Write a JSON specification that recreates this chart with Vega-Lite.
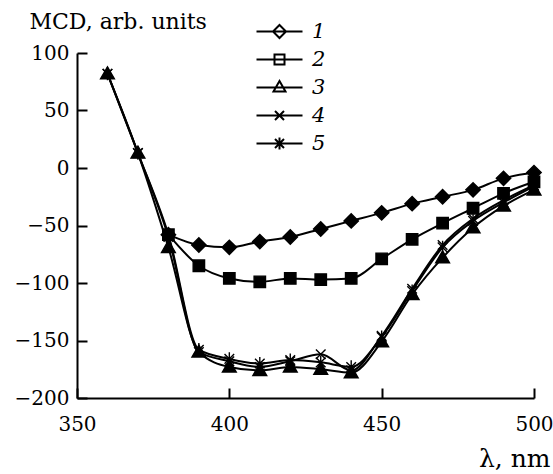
{
  "$schema": "https://vega.github.io/schema/vega-lite/v6.json",
  "width": 457,
  "height": 345,
  "autosize": {"type": "none"},
  "padding": {"left": 77, "top": 53, "right": 19, "bottom": 76},
  "background": "white",
  "config": {
    "view": {"stroke": null},
    "font": "DejaVu Serif",
    "axis": {
      "grid": false,
      "domainColor": "black",
      "domainWidth": 2,
      "tickColor": "black",
      "tickWidth": 2,
      "tickSize": -10,
      "labelColor": "black",
      "labelFont": "DejaVu Serif",
      "labelFontSize": 20,
      "labelFlush": false,
      "labelOverlap": false,
      "titleFont": "DejaVu Serif",
      "titleColor": "black",
      "titleFontWeight": "normal"
    }
  },
  "datasets": {
    "entries": [{"entry": "1"}, {"entry": "2"}, {"entry": "3"}, {"entry": "4"}, {"entry": "5"}]
  },
  "data": {
    "values": [
      {"series": "1", "wl": 380, "v": -58}, {"series": "1", "wl": 390, "v": -67}, {"series": "1", "wl": 400, "v": -69},
      {"series": "1", "wl": 410, "v": -64}, {"series": "1", "wl": 420, "v": -60}, {"series": "1", "wl": 430, "v": -53},
      {"series": "1", "wl": 440, "v": -46}, {"series": "1", "wl": 450, "v": -39}, {"series": "1", "wl": 460, "v": -31},
      {"series": "1", "wl": 470, "v": -25}, {"series": "1", "wl": 480, "v": -19}, {"series": "1", "wl": 490, "v": -9},
      {"series": "1", "wl": 500, "v": -4},
      {"series": "2", "wl": 380, "v": -58}, {"series": "2", "wl": 390, "v": -85}, {"series": "2", "wl": 400, "v": -96},
      {"series": "2", "wl": 410, "v": -99}, {"series": "2", "wl": 420, "v": -96}, {"series": "2", "wl": 430, "v": -97},
      {"series": "2", "wl": 440, "v": -96}, {"series": "2", "wl": 450, "v": -79}, {"series": "2", "wl": 460, "v": -62},
      {"series": "2", "wl": 470, "v": -48}, {"series": "2", "wl": 480, "v": -35}, {"series": "2", "wl": 490, "v": -22},
      {"series": "2", "wl": 500, "v": -12},
      {"series": "3", "wl": 360, "v": 82}, {"series": "3", "wl": 370, "v": 13}, {"series": "3", "wl": 380, "v": -69},
      {"series": "3", "wl": 390, "v": -160}, {"series": "3", "wl": 400, "v": -173}, {"series": "3", "wl": 410, "v": -176},
      {"series": "3", "wl": 420, "v": -173}, {"series": "3", "wl": 430, "v": -175}, {"series": "3", "wl": 440, "v": -178},
      {"series": "3", "wl": 450, "v": -151}, {"series": "3", "wl": 460, "v": -110}, {"series": "3", "wl": 470, "v": -78},
      {"series": "3", "wl": 480, "v": -52}, {"series": "3", "wl": 490, "v": -33}, {"series": "3", "wl": 500, "v": -19},
      {"series": "4", "wl": 360, "v": 82}, {"series": "4", "wl": 370, "v": 13}, {"series": "4", "wl": 380, "v": -60},
      {"series": "4", "wl": 390, "v": -160}, {"series": "4", "wl": 400, "v": -168}, {"series": "4", "wl": 410, "v": -173},
      {"series": "4", "wl": 420, "v": -168}, {"series": "4", "wl": 430, "v": -162}, {"series": "4", "wl": 440, "v": -176},
      {"series": "4", "wl": 450, "v": -146}, {"series": "4", "wl": 460, "v": -105}, {"series": "4", "wl": 470, "v": -67},
      {"series": "4", "wl": 480, "v": -44}, {"series": "4", "wl": 490, "v": -28}, {"series": "4", "wl": 500, "v": -15},
      {"series": "5", "wl": 360, "v": 82}, {"series": "5", "wl": 370, "v": 13}, {"series": "5", "wl": 380, "v": -58},
      {"series": "5", "wl": 390, "v": -158}, {"series": "5", "wl": 400, "v": -166}, {"series": "5", "wl": 410, "v": -170},
      {"series": "5", "wl": 420, "v": -167}, {"series": "5", "wl": 430, "v": -169}, {"series": "5", "wl": 440, "v": -173},
      {"series": "5", "wl": 450, "v": -147}, {"series": "5", "wl": 460, "v": -107}, {"series": "5", "wl": 470, "v": -69},
      {"series": "5", "wl": 480, "v": -46}, {"series": "5", "wl": 490, "v": -30}, {"series": "5", "wl": 500, "v": -16}
    ]
  },
  "layer": [
    {
      "mark": {"type": "line", "interpolate": "monotone", "color": "black", "strokeWidth": 2},
      "encoding": {
        "x": {
          "field": "wl", "type": "quantitative",
          "scale": {"domain": [350, 500], "nice": false, "zero": false},
          "axis": {
            "values": [350, 400, 450, 500],
            "labelPadding": 26,
            "title": "λ, nm",
            "titleFontSize": 25,
            "titleAlign": "right",
            "titleBaseline": "alphabetic",
            "titleX": 473,
            "titleY": 68
          }
        },
        "y": {
          "field": "v", "type": "quantitative",
          "scale": {"domain": [-200, 100], "nice": false, "zero": false},
          "axis": {
            "values": [-200, -150, -100, -50, 0, 50, 100],
            "labelPadding": 18,
            "title": "MCD, arb. units",
            "titleFontSize": 22,
            "titleAngle": 0,
            "titleAlign": "left",
            "titleBaseline": "alphabetic",
            "titleX": -48,
            "titleY": -25
          }
        },
        "detail": {"field": "series"}
      }
    },
    {
      "mark": {"type": "point", "filled": true, "fill": "black", "stroke": "black", "strokeWidth": 1.4, "size": 144, "opacity": 1},
      "encoding": {
        "x": {"field": "wl", "type": "quantitative"},
        "y": {"field": "v", "type": "quantitative"},
        "shape": {
          "field": "series", "type": "nominal",
          "scale": {
            "domain": ["1", "2", "3", "4", "5"],
            "range": [
              "M0,-1.2L1.2,0L0,1.2L-1.2,0Z",
              "M-0.95,-0.95H0.95V0.95H-0.95Z",
              "M0,-1.15L1.15,0.85L-1.15,0.85Z",
              "M-0.8,-0.8L0.8,0.8M-0.8,0.8L0.8,-0.8",
              "M-0.8,-0.8L0.8,0.8M-0.8,0.8L0.8,-0.8M0,-1.1V1.1"
            ]
          },
          "legend": null
        }
      }
    },
    {
      "data": {"name": "entries"},
      "transform": [{"filter": "false"}],
      "mark": {"type": "point", "filled": false, "color": "black", "strokeWidth": 2, "size": 100, "opacity": 1},
      "encoding": {
        "shape": {
          "field": "entry", "type": "nominal",
          "scale": {
            "domain": ["1", "2", "3", "4", "5"],
            "range": [
              "M-4.6,0H4.6M0,-1.3L1.3,0L0,1.3L-1.3,0Z",
              "M-4.6,0H4.6M-1,-1H1V1H-1Z",
              "M-4.6,0H4.6M0,-1.3L1.2,0.8L-1.2,0.8Z",
              "M-4.6,0H4.6M-0.9,-0.9L0.9,0.9M-0.9,0.9L0.9,-0.9",
              "M-4.6,0H4.6M-0.9,-0.9L0.9,0.9M-0.9,0.9L0.9,-0.9M0,-1.2V1.2"
            ]
          },
          "legend": {
            "orient": "none",
            "legendX": 192,
            "legendY": -32,
            "title": null,
            "padding": 0,
            "symbolSize": 100,
            "symbolStrokeWidth": 2,
            "symbolStrokeColor": "black",
            "symbolOpacity": 1,
            "labelFont": "DejaVu Serif",
            "labelFontStyle": "italic",
            "labelFontSize": 21,
            "labelColor": "black",
            "labelOffset": 22,
            "rowPadding": 6,
            "encode": {
              "symbols": {
                "fill": {"value": "black"},
                "stroke": {"value": "black"},
                "strokeWidth": {"value": 2}
              }
            }
          }
        }
      }
    }
  ],
  "resolve": {"scale": {"shape": "independent"}, "legend": {"shape": "independent"}}
}
